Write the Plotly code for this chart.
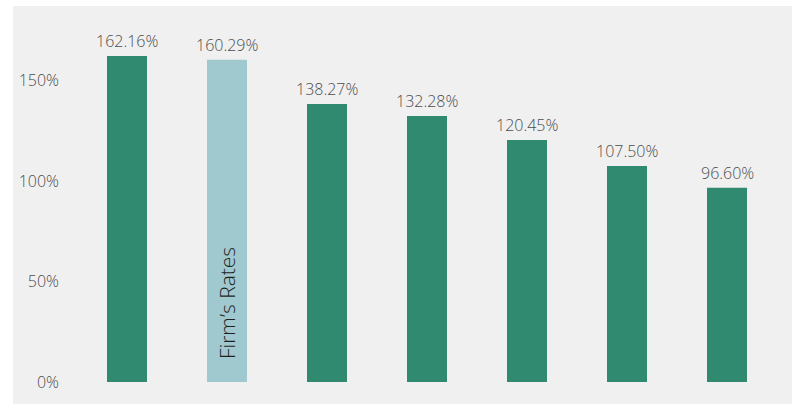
import plotly.graph_objects as go

categories = ["C1", "Firm's Rates", "C3", "C4", "C5", "C6", "C7"]
values = [162.16, 160.29, 138.27, 132.28, 120.45, 107.50, 96.60]
value_labels = ["162.16%", "160.29%", "138.27%", "132.28%", "120.45%", "107.50%", "96.60%"]
bar_colors = ["#2f8a6f", "#a0c8cf", "#2f8a6f", "#2f8a6f", "#2f8a6f", "#2f8a6f", "#2f8a6f"]
y_ticks = [0, 50, 100, 150]
y_tick_labels = ["0%", "50%", "100%", "150%"]
inner_label = "Firm\u2019s Rates"

W, H = 792, 404
L, R, T, B = 60, 0, 6, 0
plot_w = W - L - R
xs = list(range(len(categories)))
FONT = "Open Sans"

fig = go.Figure()
fig.add_trace(go.Bar(
    x=xs,
    y=values,
    marker=dict(color=bar_colors, line=dict(width=0)),
    width=0.4,
    hoverinfo="skip",
))

for xi, v, lab in zip(xs, values, value_labels):
    fig.add_annotation(
        x=xi, y=v, xref="x", yref="y", text=lab, showarrow=False,
        yanchor="bottom", xanchor="center", yshift=2,
        font=dict(family=FONT, size=16, color="#4d4d4d", weight=300),
    )

fig.add_annotation(
    x=1, y=10.4, xref="x", yref="y",
    text=inner_label, textangle=-90,
    showarrow=False, yanchor="bottom", xanchor="center",
    font=dict(family=FONT, size=21, color="#1f1f1f", weight=300),
)

# gray panel extending under the tick labels
fig.add_shape(type="rect", xref="paper", yref="paper",
              x0=(13 - L) / plot_w, x1=1, y0=0, y1=1,
              fillcolor="#f0f0f0", line=dict(width=0), layer="below")

fig.update_layout(
    width=W, height=H,
    margin=dict(l=L, r=R, t=T, b=B),
    paper_bgcolor="white",
    plot_bgcolor="#f0f0f0",
    showlegend=False,
    xaxis=dict(
        range=[(L - 127) / 100, (W - 127) / 100],
        showticklabels=False, showgrid=False, zeroline=False,
        showline=False, ticks="",
    ),
    yaxis=dict(
        range=[-22 / 201 * 100, (382 - 6) / 201 * 100],
        tickvals=y_ticks, ticktext=y_tick_labels,
        showgrid=False, zeroline=False, showline=False, ticks="",
        tickfont=dict(family=FONT, size=16, color="#4d4d4d", weight=300),
    ),
)

fig.write_html("out.html")
